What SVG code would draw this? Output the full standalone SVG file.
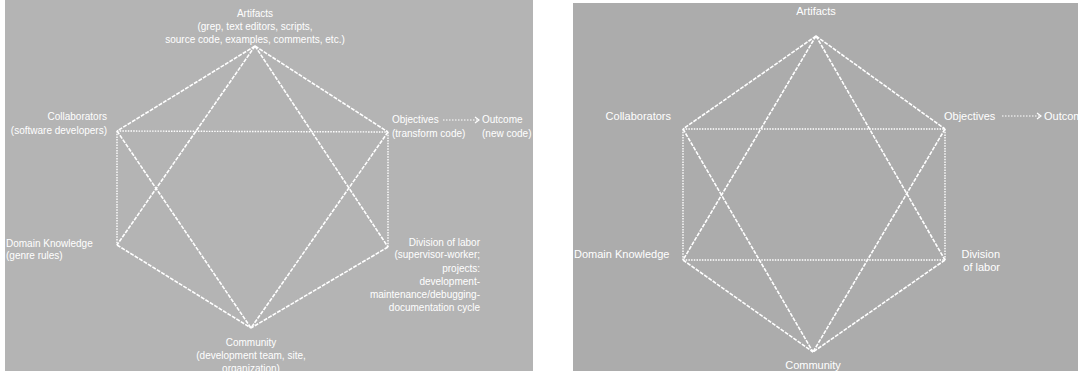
<svg xmlns="http://www.w3.org/2000/svg" width="1078" height="371" viewBox="0 0 1078 371">
<style>
.t{font-family:"Liberation Sans",Arial,sans-serif;fill:#ffffff;font-size:10px}
.t2{font-family:"Liberation Sans",Arial,sans-serif;fill:#ffffff;font-size:11px}
.d{stroke:#ffffff;stroke-width:1.6;fill:none;stroke-dasharray:4 1.2}
.s{stroke:#ffffff;stroke-width:1.4;fill:none;stroke-dasharray:1.5 1.2}
.a{stroke:#ffffff;stroke-width:1.2;fill:none;stroke-dasharray:1.5 1.5}
</style>
<defs>
<marker id="arr" markerWidth="8" markerHeight="8" refX="6" refY="4" orient="auto" markerUnits="userSpaceOnUse">
<polyline points="2,1 6,4 2,7" fill="none" stroke="#ffffff" stroke-width="1.2"/>
</marker>
<clipPath id="cl"><rect x="5" y="0" width="528" height="371"/></clipPath>
</defs>
<rect width="1078" height="371" fill="#ffffff"/>
<g id="panel-left" clip-path="url(#cl)">
<rect x="5" y="0" width="528" height="371" fill="#b4b4b4"/>
<g id="connectors-left">
<line class="d" x1="255" y1="46" x2="117" y2="131"/>
<line class="d" x1="255" y1="46" x2="388" y2="132"/>
<line class="s" x1="117" y1="131" x2="117" y2="245"/>
<line class="s" x1="388" y1="132" x2="388" y2="247"/>
<line class="d" x1="117" y1="245" x2="251" y2="328"/>
<line class="d" x1="388" y1="247" x2="251" y2="328"/>
<line class="s" x1="117" y1="131" x2="388" y2="132"/>
<line class="d" x1="255" y1="46" x2="117" y2="245"/>
<line class="d" x1="255" y1="46" x2="388" y2="247"/>
<line class="d" x1="117" y1="131" x2="251" y2="328"/>
<line class="d" x1="388" y1="132" x2="251" y2="328"/>
<line class="a" x1="443" y1="120" x2="479" y2="120" marker-end="url(#arr)"/>
</g>
<g id="l-artifacts"><text class="t" text-anchor="middle" x="255" y="16.5">Artifacts</text><text class="t" text-anchor="middle" x="255" y="29.5">(grep, text editors, scripts,</text><text class="t" text-anchor="middle" x="255" y="42.5">source code, examples, comments, etc.)</text></g>
<g id="l-collaborators"><text class="t" text-anchor="end" x="107" y="120">Collaborators</text><text class="t" text-anchor="end" x="107" y="134">(software developers)</text></g>
<g id="l-objectives"><text class="t" x="392" y="123">Objectives</text><text class="t" x="392" y="136.5">(transform code)</text></g>
<g id="l-outcome"><text class="t" x="482" y="123">Outcome</text><text class="t" x="482" y="136.5">(new code)</text></g>
<g id="l-domain"><text class="t" x="6" y="246.5">Domain Knowledge</text><text class="t" x="6" y="258.5">(genre rules)</text></g>
<g id="l-division"><text class="t" text-anchor="end" x="480" y="246">Division of labor</text><text class="t" text-anchor="end" x="480" y="258">(supervisor-worker;</text><text class="t" text-anchor="end" x="480" y="272">projects:</text><text class="t" text-anchor="end" x="480" y="285">development-</text><text class="t" text-anchor="end" x="480" y="298">maintenance/debugging-</text><text class="t" text-anchor="end" x="480" y="311">documentation cycle</text></g>
<g id="l-community"><text class="t" text-anchor="middle" x="251" y="346">Community</text><text class="t" text-anchor="middle" x="251" y="359">(development team, site,</text><text class="t" text-anchor="middle" x="251" y="372">organization)</text></g>
</g>
<g id="panel-right">
<rect x="573" y="3" width="505" height="368" fill="#acacac"/>
<g id="connectors-right">
<line class="d" x1="816" y1="36" x2="683" y2="129"/>
<line class="d" x1="816" y1="36" x2="945" y2="129"/>
<line class="s" x1="683" y1="129" x2="683" y2="260"/>
<line class="s" x1="945" y1="129" x2="945" y2="260"/>
<line class="d" x1="683" y1="260" x2="813" y2="352"/>
<line class="d" x1="945" y1="260" x2="813" y2="352"/>
<line class="s" x1="683" y1="129" x2="945" y2="129"/>
<line class="s" x1="683" y1="260" x2="945" y2="260"/>
<line class="d" x1="816" y1="36" x2="683" y2="260"/>
<line class="d" x1="816" y1="36" x2="945" y2="260"/>
<line class="d" x1="683" y1="129" x2="813" y2="352"/>
<line class="d" x1="945" y1="129" x2="813" y2="352"/>
<line class="a" x1="1002" y1="116" x2="1041" y2="116" marker-end="url(#arr)"/>
</g>
<g id="r-artifacts"><text class="t2" text-anchor="middle" x="816" y="14.5">Artifacts</text></g>
<g id="r-collaborators"><text class="t2" text-anchor="end" x="671" y="119.5">Collaborators</text></g>
<g id="r-objectives"><text class="t2" x="944" y="119.5">Objectives</text></g>
<g id="r-outcome"><text class="t2" x="1044" y="119.5">Outcome</text></g>
<g id="r-domain"><text class="t2" x="574" y="257.5">Domain Knowledge</text></g>
<g id="r-division"><text class="t2" text-anchor="end" x="1000" y="257.5">Division</text><text class="t2" text-anchor="end" x="1000" y="270.5">of labor</text></g>
<g id="r-community"><text class="t2" text-anchor="middle" x="813" y="368.5">Community</text></g>
</g>
</svg>
